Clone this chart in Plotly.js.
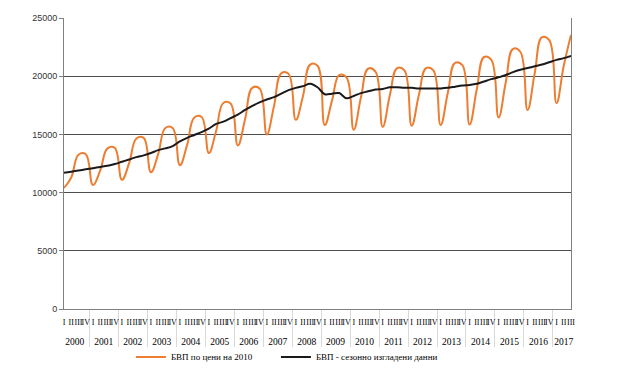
<!DOCTYPE html>
<html>
<head>
<meta charset="utf-8">
<script src="https://cdn.plot.ly/plotly-3.0.1.min.js"></script>
<style>html,body{margin:0;padding:0;background:#fff;}#chart{width:623px;height:380px;}</style>
</head>
<body>
<div id="chart"></div>
<script>
// Years and quarter labels (category axis, two levels)
const years = ['2000','2001','2002','2003','2004','2005','2006','2007','2008','2009',
               '2010','2011','2012','2013','2014','2015','2016','2017'];
const quarters = ['I','II','III','IV'];

// GDP at 2010 prices (quarterly, 2000 Q1 – 2017 Q3)
const gdpPrices2010 = [
  10400, 11300, 13250, 13300,
  10650, 11900, 13800, 13850,
  11100, 12550, 14650, 14700,
  11750, 13300, 15550, 15550,
  12350, 14100, 16450, 16500,
  13400, 15300, 17700, 17650,
  14050, 16300, 19000, 18950,
  15000, 17450, 20250, 20200,
  16250, 18300, 21000, 20900,
  15800, 17900, 20100, 19900,
  15400, 18200, 20650, 20400,
  15650, 18400, 20700, 20500,
  15750, 18400, 20700, 20500,
  15800, 18600, 21150, 20950,
  15850, 18900, 21650, 21400,
  16450, 19500, 22350, 22100,
  17100, 20300, 23350, 23100,
  17700, 20900, 23550
];

// GDP seasonally adjusted
const gdpSeasAdj = [
  11700, 11800, 11900, 12000,
  12100, 12200, 12300, 12450,
  12650, 12850, 13050, 13200,
  13400, 13650, 13800, 14000,
  14400, 14700, 14950, 15200,
  15500, 15900, 16100, 16400,
  16700, 17100, 17450, 17750,
  18000, 18200, 18500, 18800,
  19000, 19150, 19350, 19050,
  18450, 18500, 18550, 18100,
  18300, 18550, 18700, 18850,
  18900, 19050, 19050, 19000,
  19000, 18950, 18950, 18950,
  18950, 19000, 19100, 19200,
  19250, 19350, 19550, 19750,
  19900, 20100, 20350, 20550,
  20700, 20850, 21000, 21200,
  21400, 21550, 21750
];

const seriesNames = ['БВП по цени на 2010', 'БВП - сезонно изгладени данни'];

// build two-level category coordinates (quarter labels drawn smaller than years)
const xYear = [], xQuarter = [];
for (let i = 0; i < gdpPrices2010.length; i++) {
  xYear.push(years[Math.floor(i / 4)]);
  xQuarter.push('<span style="font-size:8px">' + quarters[i % 4] + '</span><br>&nbsp;');
}

const traces = [
  {
    x: [xYear, xQuarter], y: gdpPrices2010, type: 'scatter', mode: 'lines',
    name: seriesNames[0], legend: 'legend',
    line: {color: '#ED7D31', width: 2, shape: 'spline', smoothing: 1.2}
  },
  {
    x: [xYear, xQuarter], y: gdpSeasAdj, type: 'scatter', mode: 'lines',
    name: seriesNames[1], legend: 'legend2',
    line: {color: '#1a1a1a', width: 2, shape: 'spline', smoothing: 1}
  }
];

const legendFont = {family: 'Liberation Serif, serif', size: 9, color: '#000'};

const layout = {
  width: 623, height: 380,
  margin: {l: 64, r: 52, t: 18, b: 71, autoexpand: false},
  paper_bgcolor: '#ffffff', plot_bgcolor: '#ffffff',
  showlegend: true,
  legend: {
    orientation: 'h', x: 0.132, xanchor: 'left', y: -0.115, yanchor: 'top',
    font: legendFont, bgcolor: 'rgba(0,0,0,0)'
  },
  legend2: {
    orientation: 'h', x: 0.418, xanchor: 'left', y: -0.115, yanchor: 'top',
    font: legendFont, bgcolor: 'rgba(0,0,0,0)'
  },
  xaxis: {
    type: 'multicategory',
    tickmode: 'linear', dtick: 1, tick0: 0,
    tickfont: {family: 'Liberation Serif, serif', size: 9.5, color: '#000'},
    tickangle: 0,
    ticklabelstandoff: 4,
    showgrid: false, zeroline: false,
    showline: true, linecolor: '#808080', linewidth: 1,
    ticks: '',
    showdividers: true, dividercolor: '#d9d9d9', dividerwidth: 1
  },
  yaxis: {
    range: [0, 25000], dtick: 5000, tick0: 0,
    tickfont: {family: 'Liberation Sans, Arial, sans-serif', size: 9, color: '#333'},
    showgrid: true, gridcolor: '#4d4d4d', gridwidth: 1,
    zeroline: false,
    showline: true, linecolor: '#808080', linewidth: 1, mirror: true,
    ticks: 'outside', ticklen: 4, tickcolor: '#808080',
    tickformat: 'd'
  }
};

Plotly.newPlot('chart', traces, layout, {staticPlot: true, displayModeBar: false});
</script>
</body>
</html>
